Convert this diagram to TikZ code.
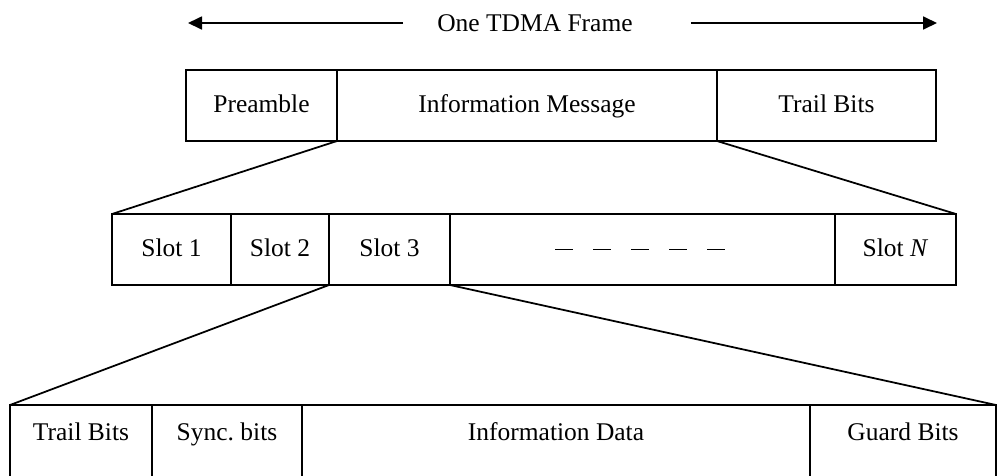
\documentclass[tikz,border=0pt]{standalone}
\usepackage{fontspec}
\setmainfont{Liberation Serif}
\usepackage{tikz}
\usetikzlibrary{arrows.meta,positioning}

\tikzset{
  cell/.style={draw, line width=1.1pt, inner sep=0pt, outer sep=0pt, minimum height=14.2mm, text height=10pt, text depth=2.5pt},
  lowcell/.style={draw, line width=1.1pt, inner sep=0pt, outer sep=0pt, text height=7mm, text depth=8mm},
  fan/.style={line width=1pt},
  span/.style={line width=1pt, -{Triangle[length=2.8mm,width=2.6mm]}},
}

\begin{document}
\begin{tikzpicture}[x=0.2mm, y=-0.2mm, font=\fontsize{14.5}{17}\selectfont]
  \useasboundingbox (0,0) rectangle (999,475);
  \clip (0,0) rectangle (999,475);

  \node (frame) at (535,23) {One TDMA Frame};
  \coordinate (frameL) at (188,23);
  \coordinate (frameR) at (937,23);
  \draw[span, shorten <=5.6mm] (frame.west) -- (frameL);
  \draw[span, shorten <=10.4mm] (frame.east) -- (frameR);

  \node[cell, minimum width=30.2mm] (pre) at (261.5,105.5) {Preamble};
  \node[cell, minimum width=76mm, right=0pt of pre] (msg) {Information Message};
  \node[cell, minimum width=43.8mm, right=0pt of msg] (trail) {Trail Bits};

  \node[cell, minimum width=23.8mm] (slot1) at (171.5,249.5) {Slot 1};
  \node[cell, minimum width=19.6mm, right=0pt of slot1] (slot2) {Slot 2};
  \node[cell, minimum width=24.2mm, right=0pt of slot2] (slot3) {Slot 3};
  \node[cell, minimum width=77mm, right=0pt of slot3] (slotdots) {};
  \node[cell, minimum width=24.2mm, right=0pt of slotdots] (slotN) {Slot \textit{N}};
  \draw[line width=1pt, dash pattern=on 3.6mm off 4mm] ([xshift=21mm]slotdots.west) -- ([xshift=55mm]slotdots.west);

  \node[lowcell, minimum width=28.4mm, anchor=north west] (trailbits) at (10,405) {Trail Bits};
  \node[lowcell, minimum width=30mm, right=0pt of trailbits] (sync) {Sync.\ bits};
  \node[lowcell, minimum width=101.6mm, right=0pt of sync] (infodata) {Information Data};
  \node[lowcell, minimum width=37.2mm, right=0pt of infodata] (guard) {Guard Bits};

  \draw[fan] (pre.south east) -- (slot1.north west);
  \draw[fan] (msg.south east) -- (slotN.north east);
  \draw[fan] (slot2.south east) -- (trailbits.north west);
  \draw[fan] (slot3.south east) -- (guard.north east);
\end{tikzpicture}
\end{document}
